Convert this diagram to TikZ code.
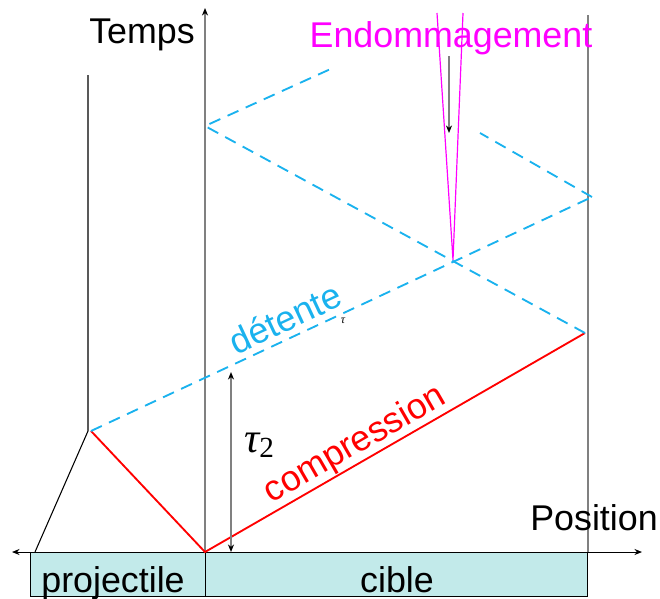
\documentclass[tikz,border=0pt]{standalone}
\usepackage{fontspec}
\setmainfont{Liberation Sans}
\newfontfamily\taufont{Liberation Serif}
\usetikzlibrary{arrows.meta}
\definecolor{waveblue}{HTML}{1AB2EE}
\definecolor{boxcyan}{HTML}{C2EAEA}
\definecolor{damage}{HTML}{FF00FF}
\newcommand{\lblfont}{\fontsize{27}{30}\selectfont}

\begin{document}
\begin{tikzpicture}[x=0.0265cm, y=-0.0265cm,
  lbl/.style={font=\lblfont, inner sep=0pt, anchor=base},
  axis/.style={draw=gray, line width=1.9pt},
  shock/.style={draw=red, line width=1.4pt},
  wave/.style={draw=waveblue, dash pattern=on 9pt off 6pt, line width=1.4pt},
  crack/.style={draw=damage, line width=0.9pt},
  tip/.style={-{Stealth[length=2mm, width=1.6mm, black]}}]
\useasboundingbox (0,0) rectangle (660,598);
% target and projectile
\draw[fill=boxcyan] (30,552) rectangle (205,596);
\draw[fill=boxcyan] (205,552) rectangle (587,596);
\node[lbl] (proj) at (113,592) {projectile};
\node[lbl] (cible) at (397,592) {cible};
% points of the diagram
\coordinate (o) at (205,552);
\coordinate (k) at (88,431);
\coordinate (s) at (91,431);
\coordinate (r1) at (585,333);
\coordinate (r2) at (592,197);
\coordinate (l1) at (205,126);
\coordinate (l2) at (335,67);
\coordinate (r3) at (480,133);
\coordinate (x) at (453,260);
% axes
\draw[{Stealth[length=2mm, width=1.6mm]}-{Stealth[length=2mm, width=1.6mm]}, line width=0.7pt]
  (12,552) -- (642,552);
\draw[axis, tip] (o) -- (205,8);
\draw[axis] (588,552) -- (588,15);
\node[lbl] (temps) at (142,43) {Temps};
\node[lbl] (pos) at (594,530) {Position};
% projectile rear
\draw[line width=0.8pt] (35,552) -- (k) -- (88,75);
% waves
\draw[shock] (s) -- (o) -- (r1);
\draw[wave] (s) -- (r2);
\draw[wave] (r1) -- (l1) -- (l2);
\draw[wave] (r2) -- (r3);
% damage
\draw[crack] (437,13) -- (x) -- (463,13);
\node[lbl, damage] (endo) at (451,47) {Endommagement};
\draw[axis, tip] (449,56) -- (449,133);
% delay
\draw[axis, {Stealth[length=2mm, width=1.6mm, black]}-{Stealth[length=2mm, width=1.6mm, black]}]
  (231,552) -- (231,372);
\node[font=\taufont\fontsize{32}{34}\selectfont, inner sep=0pt, anchor=base west] (tau) at (244,452)
  {\itshape τ\raisebox{-0.3ex}{\upshape\fontsize{22}{24}\selectfont 2}};
\node[font=\taufont\fontsize{9}{10}\selectfont\itshape, inner sep=0pt] (tau1) at (343,321) {τ};
\node[lbl, red, rotate=30, anchor=center] (comp) at (355,445) {compression};
\node[lbl, waveblue, rotate=25, anchor=center] (det) at (285,318) {détente};
\end{tikzpicture}
\end{document}
